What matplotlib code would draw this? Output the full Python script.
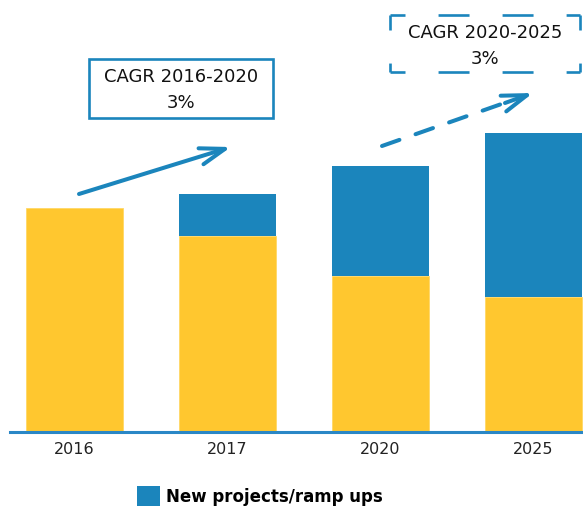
import matplotlib
matplotlib.use('Agg')
import matplotlib.pyplot as plt
from matplotlib.lines import Line2D
from matplotlib.patches import Rectangle, Patch

years = ['2016', '2017', '2020', '2025']
existing = [100.0, 87.5, 69.6, 60.3]
new_projects = [0.0, 18.8, 49.1, 73.2]

yellow = '#ffc72f'
blue = '#1b85bc'

plt.rcParams['lines.scale_dashes'] = False

W, H = 583, 507
fig = plt.figure(figsize=(W / 100, H / 100), dpi=100)

# axes placed in pixel terms: bottom line at y=432, left edge x=10
ax = fig.add_axes([10 / W, 1 - 432 / H, 573 / W, 432 / H])
x = list(range(len(years)))
bw = 97 / 153
ax.bar(x, existing, width=bw, color=yellow, edgecolor='#ffd866', linewidth=0.6)
nb = ax.bar(x, new_projects, width=bw, bottom=existing, color=blue, linewidth=0)
for rect, v in zip(nb, new_projects):
    if v == 0:
        rect.set_visible(False)
ax.set_xlim(-64.5 / 153, 508.5 / 153)
ax.set_ylim(0, 432 / 2.24)

for s in ['top', 'left', 'right']:
    ax.spines[s].set_visible(False)
ax.spines['bottom'].set_color('#2a87c6')
ax.spines['bottom'].set_linewidth(2.2)
ax.set_yticks([])
ax.set_xticks(x)
ax.set_xticklabels(years, fontsize=11.5, color='#222222')
ax.tick_params(axis='x', length=0, pad=7)


def fx(px):
    return px / W


def fy(py):
    return 1 - py / H


head = dict(arrowstyle='->,head_length=0.9,head_width=0.3', color=blue,
            lw=2.9, shrinkA=0, shrinkB=0, mutation_scale=20)

# growth arrows
ax.annotate('', xy=(fx(231), fy(147)), xytext=(fx(79), fy(194)),
            xycoords='figure fraction', textcoords='figure fraction',
            arrowprops=head)
ax.annotate('', xy=(fx(510), fy(101)), xytext=(fx(382), fy(146)),
            xycoords='figure fraction', textcoords='figure fraction',
            arrowprops=dict(arrowstyle='-', color=blue, lw=2.9,
                            ls=(0, (13.3, 12.3)), shrinkA=0, shrinkB=0))
ax.annotate('', xy=(fx(533), fy(93)), xytext=(fx(505), fy(103)),
            xycoords='figure fraction', textcoords='figure fraction',
            arrowprops=head)

# CAGR boxes
fig.patches.append(Rectangle((fx(89), fy(118)), fx(273) - fx(89), fy(59) - fy(118),
                             transform=fig.transFigure, fill=False,
                             edgecolor=blue, lw=1.9))
fig.text(fx(181), fy(77), 'CAGR 2016-2020', ha='center', va='center', fontsize=13, color='#111111')
fig.text(fx(181), fy(103), '3%', ha='center', va='center', fontsize=13, color='#111111')

# dashed box: each side drawn so corners get a dash
bx0, bx1, by0, by1 = 390, 580, 15, 72
dash = (22.3, 23.8)
sides = [((bx0, bx1), (by0, by0)), ((bx0, bx1), (by1, by1)),
         ((bx0, bx0), (by0, by1)), ((bx1, bx1), (by0, by1))]
for xs, ys in sides:
    fig.add_artist(Line2D([fx(v) for v in xs], [fy(v) for v in ys],
                          transform=fig.transFigure, color=blue, lw=1.9,
                          ls=(11.5, dash), solid_capstyle='butt', dash_capstyle='butt'))
fig.text(fx(485), fy(33), 'CAGR 2020-2025', ha='center', va='center', fontsize=13, color='#111111')
fig.text(fx(485), fy(59), '3%', ha='center', va='center', fontsize=13, color='#111111')

# legend (blue series only)
fig.legend([Patch(facecolor=blue, linewidth=0)], ['New projects/ramp ups'],
           loc='center left', bbox_to_anchor=(fx(137), fy(496)),
           frameon=False, borderpad=0, borderaxespad=0,
           handlelength=1.4, handleheight=1.5, handletextpad=0.35,
           prop={'size': 12, 'weight': 'bold'})

fig.savefig('out.png', dpi=100)
